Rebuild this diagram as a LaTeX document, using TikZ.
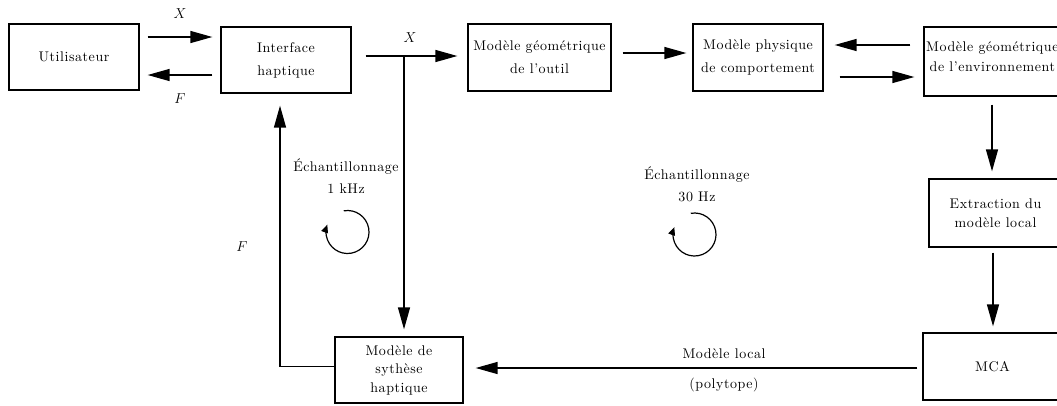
\documentclass[tikz,border=0pt]{standalone}
\usepackage{fontspec}
\setmainfont{lmroman10-regular.otf}[LetterSpace=4, ItalicFont=lmroman10-italic.otf, BoldFont=lmroman10-bold.otf]
\usetikzlibrary{arrows.meta,calc}

\tikzset{
  txt/.style={font=\fontsize{14}{23}\selectfont},
  blockbox/.style={draw, line width=1.3pt, rectangle, inner sep=0pt, align=center, txt},
  arr/.style={line width=1.4pt, -{Triangle[length=22pt,width=12pt]}},
  looparr/.style={line width=1.2pt, -{Triangle[length=8pt,width=7pt]}},
  lbl/.style={inner sep=0pt, align=center, txt},
}

\begin{document}
\begin{tikzpicture}[x=1pt, y=-1pt]
\useasboundingbox (0,0) rectangle (1057,405);
\clip (0,0) rectangle (1057,405);

% blocks
\node[blockbox, minimum width=130pt, minimum height=66pt] (user) at (74,57) {Utilisateur};
\node[blockbox, minimum width=130pt, minimum height=66pt] (iface) at (286,60) {Interface\\haptique};
\node[blockbox, minimum width=143pt, minimum height=67pt] (outil) at (539.5,57.5) {Modèle géométrique\\de l'outil};
\node[blockbox, minimum width=130pt, minimum height=67pt] (phys) at (758,57.5) {Modèle physique\\de comportement};
\node[blockbox, minimum width=138pt, minimum height=69pt] (env) at (993,61.5) {};
\node[lbl, font=\fontsize{14}{20}\selectfont, anchor=west] (envtext) at (926,57) {Modèle géométrique\\de l'environnement};
\node[blockbox, minimum width=133pt, minimum height=68pt, font=\fontsize{14}{19}\selectfont] (extr) at (995.5,213) {Extraction du\\modèle local};
\node[blockbox, minimum width=139pt, minimum height=67pt] (mca) at (992.5,366.5) {MCA};
\node[blockbox, minimum width=128pt, minimum height=66pt, font=\fontsize{14}{18.5}\selectfont] (synth) at (399,370) {Modèle de\\sythèse\\haptique};

% user <-> haptic interface
\draw[arr] ($(user.east)+(8,-20)$) -- ($(iface.west)+(-8,-23)$);
\draw[arr] ($(iface.west)+(-8,15)$) -- ($(user.east)+(8,18)$);
\node[lbl] (xa) at (180,14) {$X$};
\node[lbl] (fa) at (180,99) {$F$};

% position towards the tool model, and its branch to the haptic synthesis
\draw[arr] ($(iface.east)+(14,-4)$) -- ($(outil.west)+(-10,-1.5)$);
\node[lbl] (xb) at (410,38) {$X$};
\coordinate (branch) at ($(synth.north)+(5,-281)$);
\draw[arr] (branch) -- ($(synth.north)+(5,-7)$);

% force feedback loop
\coordinate (corner) at ($(iface.south)+(-6,273)$);
\draw[arr] (synth.west |- corner) -- (corner) -- ($(iface.south)+(-6,12)$);
\node[lbl] (fb) at (242,247) {$F$};

% upper chain
\draw[arr] ($(outil.east)+(11,-4.5)$) -- ($(phys.west)+(-6,-4.5)$);
\draw[arr] ($(env.west)+(-13,-16.5)$) -- ($(phys.east)+(11,-12.5)$);
\draw[arr] ($(phys.east)+(16,19.5)$) -- ($(env.west)+(-9,15.5)$);
\draw[arr] ($(env.south)+(-1,8)$) -- ($(extr.north)+(-3.5,-7)$);
\draw[arr] ($(extr.south)+(-2.5,5)$) -- ($(mca.north)+(0.5,-6)$);

% local model sent back to the haptic synthesis
\draw[arr] ($(mca.west)+(-5,1.5)$) -- ($(synth.east)+(12,-2)$);
\node[lbl] (ml) at (724,354) {Modèle local};
\node[lbl] (poly) at (724,385) {(polytope)};

% sampling loops
\node[lbl, font=\fontsize{14}{22}\selectfont] (s1) at (346,176) {Échantillonnage\\1 kHz};
\coordinate (c1) at (347.5,232);
\draw[looparr] ($(c1)+(-100:21.5)$) arc[start angle=-100, end angle=200, radius=21.5];

\node[lbl, font=\fontsize{14}{22}\selectfont] (s2) at (697,184) {Échantillonnage\\30 Hz};
\coordinate (c2) at (694.5,234.5);
\draw[looparr] ($(c2)+(-100:21.5)$) arc[start angle=-100, end angle=200, radius=21.5];
\end{tikzpicture}
\end{document}
